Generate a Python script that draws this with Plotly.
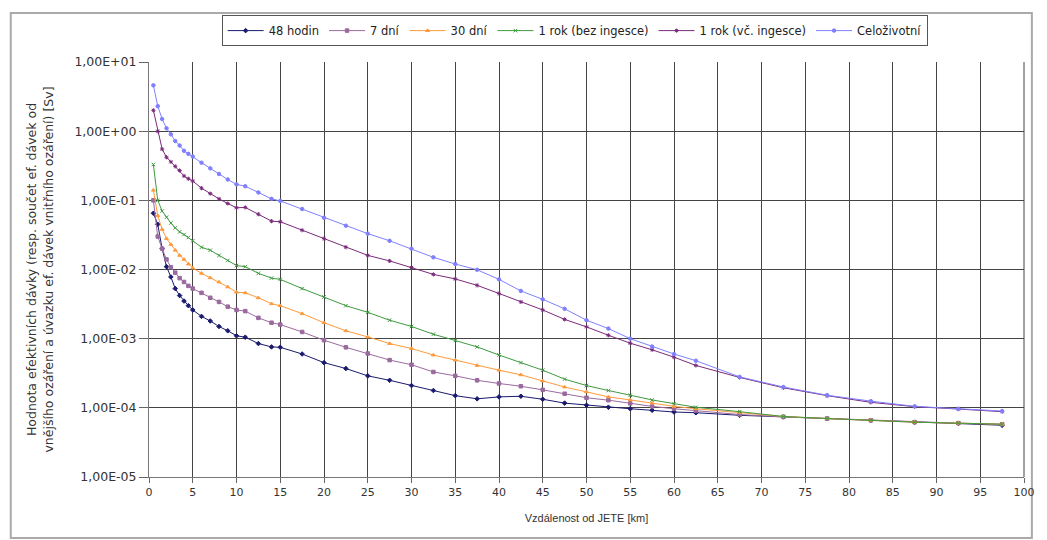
import plotly.graph_objects as go

distance_km = [0.5, 1, 1.5, 2, 2.5, 3, 3.5, 4, 4.5, 5, 6, 7, 8, 9, 10, 11, 12.5, 14, 15,
               17.5, 20, 22.5, 25, 27.5, 30, 32.5, 35, 37.5, 40, 42.5, 45, 47.5, 50, 52.5,
               55, 57.5, 60, 62.5, 67.5, 72.5, 77.5, 82.5, 87.5, 92.5, 97.5]

dose_48h = [0.065, 0.045, 0.02, 0.011, 0.0078, 0.0053, 0.0042, 0.0035, 0.003, 0.0026, 0.0021,
            0.0018, 0.0015, 0.0013, 0.0011, 0.00105, 0.00085, 0.00076, 0.00075, 0.0006, 0.00045,
            0.00037, 0.00029, 0.00025, 0.00021, 0.000178, 0.00015, 0.000135, 0.000144, 0.000147,
            0.000133, 0.000117, 0.000109, 0.000102, 0.000097, 0.000092, 0.000087, 0.000085,
            0.000078, 0.000074, 0.00007, 0.000066, 0.000062, 0.00006, 0.000056]

dose_7d = [0.1, 0.03, 0.02, 0.014, 0.0108, 0.009, 0.0075, 0.0066, 0.0058, 0.0053, 0.0046,
           0.0039, 0.0034, 0.0029, 0.0026, 0.0025, 0.002, 0.0017, 0.0016, 0.00125, 0.00095,
           0.00075, 0.00061, 0.00049, 0.00042, 0.00033, 0.00029, 0.00025, 0.000225, 0.000205,
           0.000182, 0.00016, 0.00014, 0.000129, 0.000116, 0.000105, 0.000097, 0.000091,
           0.00008, 0.000074, 0.00007, 0.000066, 0.000062, 0.00006, 0.000058]

dose_30d = [0.14, 0.06, 0.038, 0.028, 0.023, 0.019, 0.016, 0.014, 0.012, 0.0105, 0.0088,
            0.0076, 0.0066, 0.0056, 0.0047, 0.0046, 0.0039, 0.0032, 0.003, 0.0023, 0.0017,
            0.0013, 0.00106, 0.00085, 0.00072, 0.00058, 0.00049, 0.00041, 0.00035, 0.0003,
            0.000245, 0.0002, 0.00017, 0.000144, 0.00013, 0.000117, 0.000105, 0.000097,
            0.000086, 0.000075, 0.00007, 0.000066, 0.000062, 0.00006, 0.000058]

dose_1y_no_ing = [0.33, 0.1, 0.07, 0.057, 0.047, 0.04, 0.035, 0.032, 0.029, 0.026, 0.021,
                  0.019, 0.016, 0.0135, 0.0114, 0.011, 0.0088, 0.0075, 0.0072, 0.0053, 0.004,
                  0.003, 0.0024, 0.00185, 0.0015, 0.00116, 0.00094, 0.00076, 0.00058, 0.00045,
                  0.00035, 0.00026, 0.00021, 0.000178, 0.000152, 0.00013, 0.000115, 0.000102,
                  0.000088, 0.000075, 0.00007, 0.000066, 0.000062, 0.00006, 0.000058]

dose_1y_ing = [2.0, 1.0, 0.55, 0.42, 0.36, 0.31, 0.27, 0.225, 0.205, 0.19, 0.15, 0.125, 0.105,
               0.09, 0.078, 0.079, 0.063, 0.05, 0.049, 0.037, 0.028, 0.021, 0.016, 0.0133,
               0.0107, 0.0085, 0.0073, 0.0059, 0.0045, 0.0034, 0.0026, 0.0019, 0.00148, 0.00112,
               0.00086, 0.00069, 0.00054, 0.00041, 0.000275, 0.000195, 0.00015, 0.00012,
               0.000104, 0.000096, 0.000088]

dose_lifetime = [4.6, 2.3, 1.5, 1.1, 0.9, 0.72, 0.62, 0.52, 0.47, 0.43, 0.35, 0.29, 0.24, 0.2,
                 0.17, 0.16, 0.13, 0.105, 0.098, 0.075, 0.056, 0.043, 0.033, 0.026, 0.02, 0.015,
                 0.012, 0.0099, 0.0072, 0.0049, 0.0037, 0.0027, 0.00185, 0.0014, 0.001, 0.00077,
                 0.0006, 0.00048, 0.00028, 0.0002, 0.000152, 0.000125, 0.000105, 0.000097, 0.00009]

series_names = ["48 hodin", "7 dní", "30 dní", "1 rok (bez ingesce)", "1 rok (vč. ingesce)", "Celoživotní"]
series_values = [dose_48h, dose_7d, dose_30d, dose_1y_no_ing, dose_1y_ing, dose_lifetime]
series_colors = ["#1a1a6e", "#9a6a9e", "#ff9a3c", "#3f9a3f", "#7a2a7a", "#8080ff"]
series_symbols = ["diamond", "square", "triangle-up", "x-thin-open", "asterisk-open", "circle"]

ytick_vals = [1e-5, 1e-4, 1e-3, 1e-2, 1e-1, 1e0, 1e1]
ytick_text = ["1,00E-05", "1,00E-04", "1,00E-03", "1,00E-02", "1,00E-01", "1,00E+00", "1,00E+01"]
xtick_vals = list(range(0, 101, 5))

fig = go.Figure()
for name, vals, col, sym in zip(series_names, series_values, series_colors, series_symbols):
    fig.add_trace(go.Scatter(
        x=distance_km, y=vals, name=name, mode="lines+markers",
        line=dict(color=col, width=1),
        marker=dict(symbol=sym, size=3.5, color=col, line=dict(color=col, width=1)),
    ))

ARIAL = "Liberation Sans, Arial, sans-serif"
WIDE = "DejaVu Sans, Verdana, sans-serif"
fig.update_layout(
    width=1047, height=540,
    margin=dict(l=149, r=13, t=62, b=63),
    paper_bgcolor="white", plot_bgcolor="white",
    font=dict(family=ARIAL, size=11, color="#333333"),
    showlegend=True,
    legend=dict(
        orientation="h", x=0.083, y=1.113, xanchor="left", yanchor="top",
        bordercolor="#555555", borderwidth=1, bgcolor="white",
        font=dict(family=WIDE, size=11.5, color="#222222"),
        itemwidth=36, tracegroupgap=0,
    ),
    xaxis=dict(
        range=[0, 100], tickvals=xtick_vals, ticks="outside", ticklen=5,
        tickcolor="#666666", showgrid=True, gridcolor="#444444", gridwidth=1,
        showline=True, linecolor="#777777", linewidth=1, zeroline=False,
        title=dict(text="Vzdálenost od JETE [km]", font=dict(family=ARIAL, size=11), standoff=16),
        tickfont=dict(family=WIDE, size=11),
    ),
    yaxis=dict(
        type="log", range=[-5, 1], tickvals=ytick_vals, ticktext=ytick_text,
        ticks="outside", ticklen=9, tickcolor="#666666",
        showgrid=True, gridcolor="#444444", gridwidth=1,
        showline=True, linecolor="#777777", linewidth=1, zeroline=False,
        title=dict(text="Hodnota efektivních dávky (resp. součet ef. dávek od<br>vnějšího ozáření a úvazku ef. dávek vnitřního ozáření) [Sv]",
                   font=dict(family=WIDE, size=12.5), standoff=18),
        tickfont=dict(family=WIDE, size=12.5),
    ),
    shapes=[
        dict(type="rect", xref="paper", yref="paper", x0=-0.158, x1=1.009, y0=-0.147, y1=1.118,
             line=dict(color="#aaaaaa", width=2), fillcolor="rgba(0,0,0,0)", layer="below"),
        dict(type="line", xref="paper", yref="paper", x0=1, x1=1, y0=0, y1=1,
             line=dict(color="#444444", width=1)),
    ],
)

fig.write_html("out.html")
